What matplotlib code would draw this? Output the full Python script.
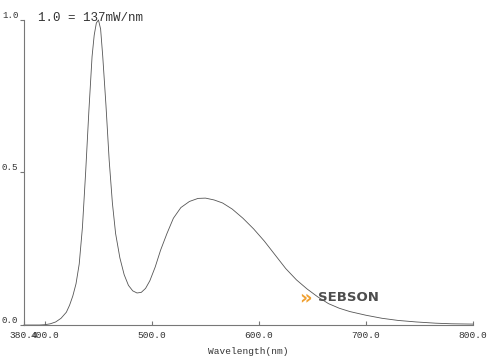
import matplotlib
matplotlib.use("Agg")
import matplotlib.pyplot as plt

# spectrum (relative, 1.0 = 137 mW/nm)
wavelength = [380.4, 395, 400, 405, 410, 415, 420, 423, 426, 429, 432, 435, 438, 441, 444, 446, 448, 450,
              452, 454, 457, 460, 463, 466, 470, 474, 478, 482, 486, 490, 494, 498, 503, 508,
              514, 520, 527, 535, 543, 550, 558, 566, 575, 585, 595, 605, 615, 625, 635, 645,
              655, 665, 675, 685, 700, 715, 730, 747, 765, 780, 800]
intensity = [0.0, 0.0, 0.001, 0.004, 0.01, 0.022, 0.042, 0.065, 0.095, 0.135, 0.2, 0.32, 0.50, 0.70, 0.88, 0.95, 0.99, 1.0,
             0.97, 0.88, 0.72, 0.54, 0.40, 0.30, 0.22, 0.165, 0.13, 0.112, 0.105, 0.107, 0.12, 0.145, 0.19, 0.245,
             0.30, 0.35, 0.385, 0.405, 0.415, 0.416, 0.41, 0.40, 0.38, 0.35, 0.315, 0.275, 0.23, 0.185, 0.148, 0.118,
             0.092, 0.07, 0.055, 0.044, 0.032, 0.022, 0.015, 0.01, 0.006, 0.004, 0.003]

x_ticks = [380.4, 400, 500, 600, 700, 800]
x_labels = ["380.4", "400.0", "500.0", "600.0", "700.0", "800.0"]
y_ticks = [0.0, 0.5, 1.0]
y_labels = ["0.0", "0.5", "1.0"]

mono = "Liberation Mono"
grey = "#777777"

fig = plt.figure(figsize=(5, 3.61), dpi=100)
ax = fig.add_axes([0.048, 0.0997, 0.898, 0.845])

ax.plot(wavelength, intensity, color="#555555", linewidth=0.6, clip_on=False)

ax.set_xlim(380.4, 800)
ax.set_ylim(0, 1.0)

for s in ["top", "right"]:
    ax.spines[s].set_visible(False)
for s in ["left", "bottom"]:
    ax.spines[s].set_color(grey)
    ax.spines[s].set_linewidth(0.8)

ax.set_xticks(x_ticks)
ax.set_xticklabels(x_labels, fontfamily=mono, fontsize=6.8, color="#333333")
ax.set_yticks(y_ticks)
ax.set_yticklabels(y_labels, fontfamily=mono, fontsize=6.6, color="#333333", va="bottom")
ax.tick_params(axis="x", direction="in", length=3, color=grey, pad=4)
ax.tick_params(axis="y", direction="out", length=3, color=grey, pad=1)

ax.set_xlabel("Wavelength(nm)", fontfamily=mono, fontsize=6.8, color="#333333", labelpad=5)

# header text
fig.text(0.076, 0.95, "1.0 = 137mW/nm", fontfamily=mono, fontsize=9, color="#333333", va="center")

# watermark logo
fig.text(0.598, 0.176, "»", fontfamily="DejaVu Sans", fontsize=14, fontweight="bold",
         color="#f0a030", va="center")
fig.text(0.636, 0.176, "SEBSON", fontfamily="DejaVu Sans", fontsize=9.5, fontweight="bold",
         color="#4d4d4d", va="center")

fig.savefig("out.png", dpi=100)
